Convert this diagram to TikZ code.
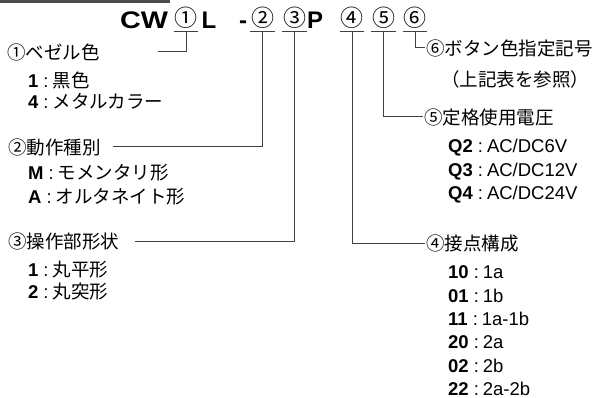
\documentclass[tikz,border=0pt]{standalone}
\usepackage{fontspec}
\setmainfont{Liberation Sans}
\newfontfamily\jp{Noto Sans CJK JP}
\usepackage{tikz}
\usetikzlibrary{positioning}
\tikzstyle{part}=[font=\fontsize{24}{24}\selectfont\bfseries,inner sep=0pt,anchor=base]
\tikzstyle{digit}=[font=\jp\fontsize{23}{23}\selectfont,inner sep=0pt,minimum width=24pt,text height=18pt,text depth=4.5pt,anchor=base]
\tikzstyle{heading}=[font=\jp\fontsize{18.5}{22}\selectfont,anchor=west,inner sep=1pt]
\tikzstyle{entry}=[heading]
\tikzstyle{conn}=[draw=black!75,line width=1pt]
\newcommand{\opt}[2]{{\rmfamily\bfseries #1}\hspace{5pt}{\rmfamily :}\hspace{4pt}#2}

\begin{document}
\begin{tikzpicture}[x=1pt,y=-1pt]
\useasboundingbox (0,0) rectangle (596,398);
\fill[black!70] (0,0) rectangle (170,3.5);
% model code
\node [part] (cw) at (144,28.5) {\scalebox{1.2}[1]{CW}};
\node [digit] (d1) at (186,27) {①};
\node [part] (l) at (209,28.5) {L};
\node [part] (dash) at (243,28.5) {-};
\node [digit] (d2) at (262.5,27) {②};
\node [digit] (d3) at (294.5,27) {③};
\node [part] (p) at (315,28.5) {P};
\node [digit] (d4) at (352,27) {④};
\node [digit] (d5) at (383.5,27) {⑤};
\node [digit] (d6) at (415,27) {⑥};
\foreach \d in {d1,d2,d3,d4,d5,d6}
  \draw[conn] (\d.south west) -- (\d.south east);
% left side
\node [heading] (bezel) at (6,52) {①ベゼル色};
\node [entry] (bezel1) at (27,80) {\opt{1}{黒色}};
\node [entry] (bezel4) at (27,101) {\opt{4}{メタルカラー}};
\node [heading] (action) at (7,147) {②動作種別};
\node [entry] (actionM) at (27,173) {\opt{M}{モメンタリ形}};
\node [entry] (actionA) at (27,197) {\opt{A}{オルタネイト形}};
\node [heading] (shape) at (7,241) {③操作部形状};
\node [entry] (shape1) at (27,270) {\opt{1}{丸平形}};
\node [entry] (shape2) at (27,292) {\opt{2}{丸突形}};
\coordinate (e1) at (158,52);
\coordinate (e2) at (113,147);
\coordinate (e3) at (135,241);
% right side
\node [heading] (color) at (425,48) {⑥ボタン色指定記号};
\node [entry] (colornote) at (440,79) {（上記表を参照）};
\node [heading] (volt) at (423,117) {⑤定格使用電圧};
\foreach \k/\v [count=\i] in {Q2/{AC/DC6V},Q3/{AC/DC12V},Q4/{AC/DC24V}}
  \node [entry] (volt\i) at (447,{148+23.5*(\i-1)}) {\opt{\k}{{\rmfamily\v}}};
\node [heading] (contact) at (425,243) {④接点構成};
\foreach \k/\v [count=\i] in {10/1a,01/1b,11/1a-1b,20/2a,02/2b,22/2a-2b}
  \node [entry] (contact\i) at (447,{272+23.4*(\i-1)}) {\opt{\k}{{\rmfamily\v}}};
% connectors
\draw[conn] (d1.south) |- (e1);
\draw[conn] (d2.south) |- (e2);
\draw[conn] (d3.south) |- (e3);
\draw[conn] (d4.south) |- (contact.west);
\draw[conn] (d5.south) |- (volt.west);
\draw[conn] (d6.south) |- (color.west);
\end{tikzpicture}
\end{document}
